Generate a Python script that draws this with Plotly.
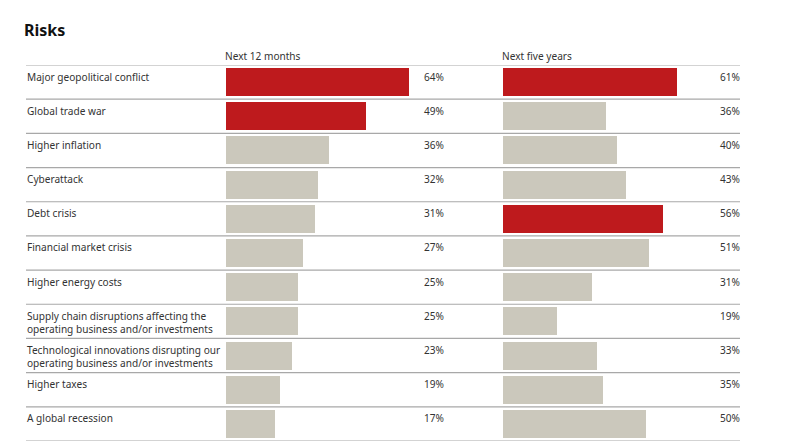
import plotly.graph_objects as go

categories = [
    "Major geopolitical conflict",
    "Global trade war",
    "Higher inflation",
    "Cyberattack",
    "Debt crisis",
    "Financial market crisis",
    "Higher energy costs",
    "Supply chain disruptions affecting the<br>operating business and/or investments",
    "Technological innovations disrupting our<br>operating business and/or investments",
    "Higher taxes",
    "A global recession",
]
next_12_months = [64, 49, 36, 32, 31, 27, 25, 25, 23, 19, 17]
next_five_years = [61, 36, 40, 43, 56, 51, 31, 19, 33, 35, 50]
headers = ["Next 12 months", "Next five years"]
title = "Risks"

RED = "#be1a1d"
GREY = "#cbc8bc"
W, H = 800, 442
FONT = "Noto Sans"
TXT = "#333333"
FS = 10.1

def colors(vals, top=2):
    thr = sorted(vals, reverse=True)[top - 1]
    return [RED if v >= thr else GREY for v in vals]

n = len(categories)
ys = list(range(n))

fig = go.Figure()
fig.add_trace(go.Bar(x=next_12_months, y=ys, orientation="h",
                     marker=dict(color=colors(next_12_months), line=dict(width=0)),
                     width=0.82, xaxis="x", yaxis="y", hoverinfo="skip"))
fig.add_trace(go.Bar(x=next_five_years, y=ys, orientation="h",
                     marker=dict(color=colors(next_five_years), line=dict(width=0)),
                     width=0.82, xaxis="x2", yaxis="y", hoverinfo="skip"))

px_per = 2.86
x1_left = 226
x2_left = 503
r1, r2 = 70, 80
top_px, bot_px = 65, 441

fig.update_layout(
    width=W, height=H,
    margin=dict(l=0, r=0, t=0, b=0),
    paper_bgcolor="white", plot_bgcolor="white",
    showlegend=False,
    bargap=0,
    xaxis=dict(domain=[x1_left / W, (x1_left + r1 * px_per) / W], range=[0, r1],
               visible=False, fixedrange=True),
    xaxis2=dict(domain=[x2_left / W, (x2_left + r2 * px_per) / W], range=[0, r2],
                visible=False, fixedrange=True, anchor="y"),
    yaxis=dict(domain=[(H - bot_px) / H, (H - top_px) / H], range=[n - 0.5, -0.5],
               visible=False, fixedrange=True),
    font=dict(family=FONT, color=TXT),
)

shapes = []
for i in range(n + 1):
    shapes.append(dict(type="line", xref="paper", yref="y",
                       x0=26 / W, x1=740 / W, y0=i - 0.5, y1=i - 0.5,
                       line=dict(color="#a8a8a8", width=1.2)))
fig.update_layout(shapes=shapes)

row_px = (bot_px - top_px) / n
off = 2.5 / row_px
ann = []
ann.append(dict(text="<b>" + title + "</b>", xref="paper", yref="paper",
                x=22 / W, y=1 - 30 / H, xanchor="left", yanchor="middle",
                showarrow=False, font=dict(size=16, color="#111111", family=FONT)))
for hx, h in zip([x1_left, x2_left], headers):
    ann.append(dict(text=h, xref="paper", yref="paper", x=(hx - 3) / W, y=1 - 56 / H,
                    xanchor="left", yanchor="middle", showarrow=False,
                    font=dict(size=FS, color=TXT)))
for i, c in enumerate(categories):
    ann.append(dict(text=c, xref="paper", yref="y", x=25 / W, y=i - 0.5 + off,
                    xanchor="left", yanchor="top", align="left", showarrow=False,
                    font=dict(size=FS, color=TXT)))
    ann.append(dict(text=f"{next_12_months[i]}%", xref="paper", yref="y", x=446 / W,
                    y=i - 0.5 + off, xanchor="right", yanchor="top", showarrow=False,
                    font=dict(size=FS, color=TXT)))
    ann.append(dict(text=f"{next_five_years[i]}%", xref="paper", yref="y", x=742 / W,
                    y=i - 0.5 + off, xanchor="right", yanchor="top", showarrow=False,
                    font=dict(size=FS, color=TXT)))
fig.update_layout(annotations=ann)

fig.write_html("out.html", config={"displayModeBar": False})
